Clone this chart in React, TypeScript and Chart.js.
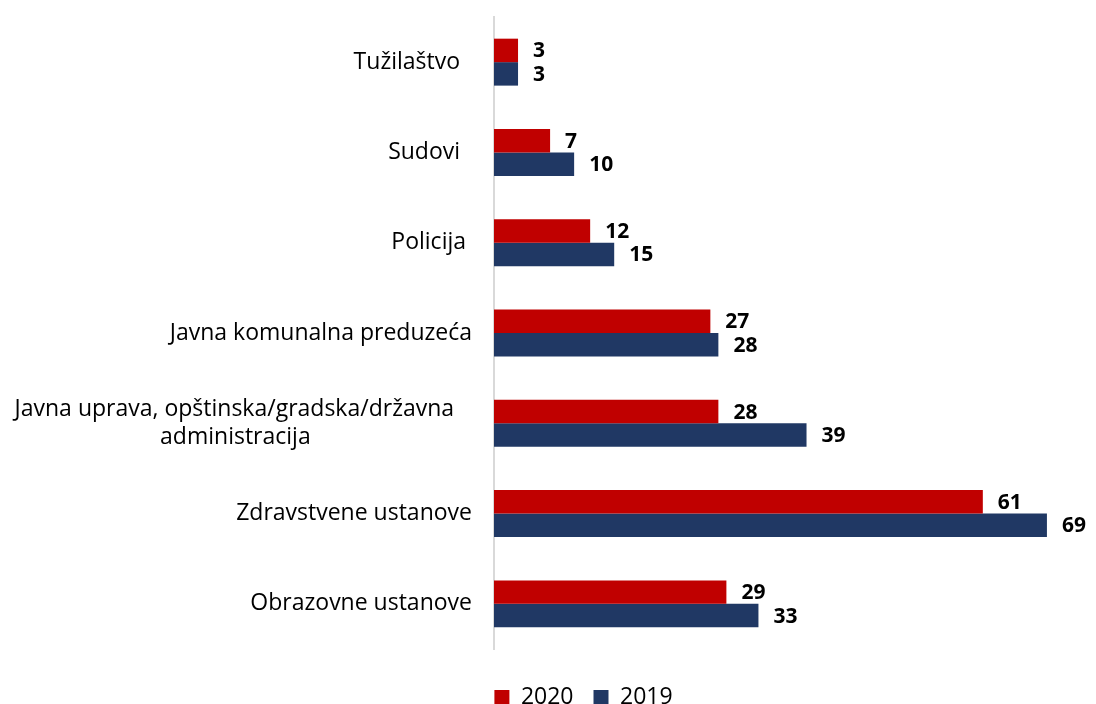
import React, { useEffect, useRef } from "react";
import { Chart, registerables } from "chart.js";

Chart.register(...registerables);

const categories: (string | string[])[] = [
  "Tužilaštvo  ",
  "Sudovi  ",
  "Policija ",
  "Javna komunalna preduzeća",
  [
    "Javna uprava, opštinska/gradska/državna   ",
    "administracija                           ",
  ],
  "Zdravstvene ustanove",
  "Obrazovne ustanove",
];
const series2020 = [3, 7, 12, 27, 28, 61, 29];
const series2019 = [3, 10, 15, 28, 39, 69, 33];
const seriesNames = ["2020", "2019"];
const seriesColors = ["#C00000", "#203864"];

const FONT = "'Open Sans', Lato, sans-serif";

const valueLabels = {
  id: "valueLabels",
  afterDatasetsDraw(chart: any) {
    const ctx = chart.ctx;
    ctx.save();
    ctx.font = `bold 21px ${FONT}`;
    ctx.fillStyle = "#000000";
    ctx.textAlign = "left";
    ctx.textBaseline = "middle";
    chart.data.datasets.forEach((ds: any, di: number) => {
      const meta = chart.getDatasetMeta(di);
      meta.data.forEach((bar: any, i: number) => {
        ctx.fillText(String(ds.data[i]), bar.x + 15, bar.y + 1);
      });
    });
    ctx.restore();
  },
};

const legendShift = {
  id: "legendShift",
  afterLayout(chart: any) {
    const l = chart.legend;
    if (l) {
      l.left += 40;
      l.right += 40;
    }
  },
};

export default function App() {
  const ref = useRef<HTMLCanvasElement>(null);
  useEffect(() => {
    document.body.style.margin = "0";
    const chart = new Chart(ref.current!, {
      type: "bar",
      data: {
        labels: categories,
        datasets: [
          {
            label: seriesNames[0],
            data: series2020,
            backgroundColor: seriesColors[0],
            categoryPercentage: 0.52,
            barPercentage: 1,
          },
          {
            label: seriesNames[1],
            data: series2019,
            backgroundColor: seriesColors[1],
            categoryPercentage: 0.52,
            barPercentage: 1,
          },
        ],
      },
      options: {
        indexAxis: "y",
        responsive: false,
        animation: false,
        layout: { padding: { top: 17, bottom: -15, left: 0, right: 9 } },
        scales: {
          x: {
            min: 0,
            max: 74,
            display: true,
            grid: { display: false, drawTicks: false },
            border: { display: false },
            ticks: { display: false },
            afterFit: (s: any) => {
              s.height = 17;
            },
          },
          y: {
            grid: { display: false, drawTicks: true, tickLength: 22 },
            border: { display: true, color: "#D9D9D9", width: 2 },
            ticks: {
              autoSkip: false,
              color: "#000000",
              padding: 0,
              font: { family: FONT, size: 23 },
            },
            afterFit: (s: any) => {
              s.width = 494;
            },
          },
        },
        plugins: {
          legend: {
            position: "bottom",
            labels: {
              color: "#000000",
              boxWidth: 15,
              boxHeight: 15,
              padding: 20,
              font: { family: FONT, size: 23 },
            },
          },
          tooltip: { enabled: false },
        },
      },
      plugins: [valueLabels, legendShift],
    });
    return () => chart.destroy();
  }, []);
  return (
    <div style={{ width: 1096, height: 704 }}>
      <canvas ref={ref} width={1096} height={704} />
    </div>
  );
}
